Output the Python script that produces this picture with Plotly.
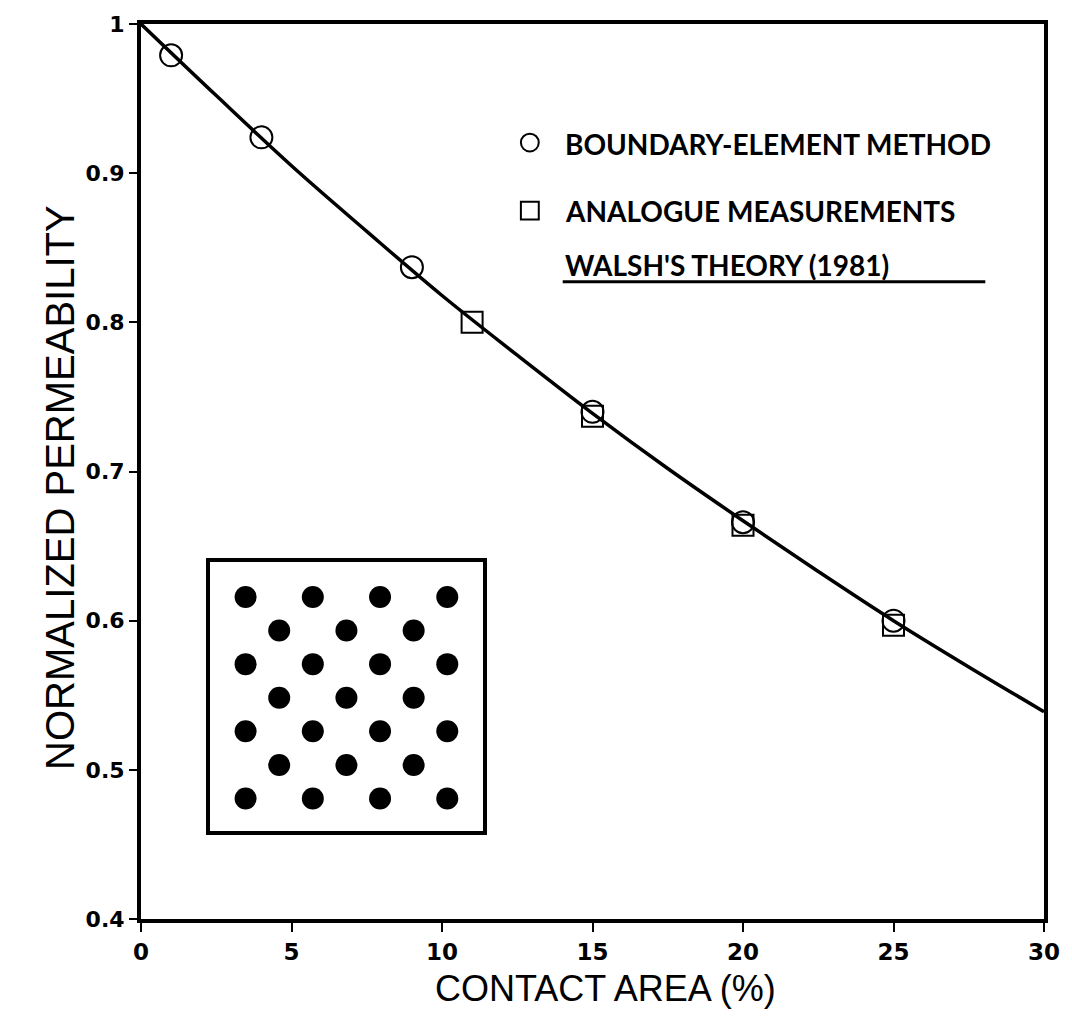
import plotly.graph_objects as go

# ---- data ----
bem_x = [1, 4, 9, 15, 20, 25]
bem_y = [0.979, 0.924, 0.837, 0.740, 0.666, 0.600]

ana_x = [11, 15, 20, 25]
ana_y = [0.800, 0.737, 0.664, 0.597]

walsh_x = [0, 2.5, 5, 7.5, 10, 12.5, 15, 17.5, 20, 22.5, 25, 27.5, 30]
walsh_y = [1.000, 0.952, 0.905, 0.861, 0.818, 0.778, 0.739, 0.702, 0.667, 0.633, 0.600, 0.569, 0.539]

x_ticks = [0, 5, 10, 15, 20, 25, 30]
y_ticks = [0.4, 0.5, 0.6, 0.7, 0.8, 0.9, 1.0]
y_ticklabels = ["0.4", "0.5", "0.6", "0.7", "0.8", "0.9", "1"]

# inset: staggered grid of contact spots (column index, row index)
inset_col = [0, 2, 4, 6, 1, 3, 5, 0, 2, 4, 6, 1, 3, 5, 0, 2, 4, 6, 1, 3, 5, 0, 2, 4, 6]
inset_row = [0, 0, 0, 0, 1, 1, 1, 2, 2, 2, 2, 3, 3, 3, 4, 4, 4, 4, 5, 5, 5, 6, 6, 6, 6]

legend_labels = ["BOUNDARY-ELEMENT METHOD", "ANALOGUE MEASUREMENTS", "WALSH'S THEORY (1981)"]

fig = go.Figure()

fig.add_trace(go.Scatter(
    x=walsh_x, y=walsh_y, mode="lines", line=dict(color="black", width=3.5, shape="spline"),
    name=legend_labels[2], showlegend=False))
fig.add_trace(go.Scatter(
    x=ana_x, y=ana_y, mode="markers",
    marker=dict(symbol="square-open", size=21, color="black", line=dict(width=2)),
    name=legend_labels[1], showlegend=False))
fig.add_trace(go.Scatter(
    x=bem_x, y=bem_y, mode="markers",
    marker=dict(symbol="circle-open", size=22, color="black", line=dict(width=2)),
    name=legend_labels[0], showlegend=False))

fig.add_trace(go.Scatter(
    x=inset_col, y=inset_row, mode="markers", xaxis="x2", yaxis="y2",
    marker=dict(symbol="circle", size=22, color="black"), showlegend=False, hoverinfo="skip"))

tick_font_y = dict(family="DejaVu Sans", size=22, color="black", weight="bold")
tick_font_x = dict(family="DejaVu Sans", size=23, color="black", weight="bold")

fig.update_layout(
    width=1072, height=1018,
    margin=dict(l=141, r=23, t=13, b=99),
    paper_bgcolor="white", plot_bgcolor="white",
    showlegend=False,
    xaxis=dict(range=[0, 30], tickvals=x_ticks, ticks="outside", ticklen=9, tickwidth=2,
               tickcolor="black", showline=True, linecolor="black", linewidth=4, mirror=True,
               showgrid=False, zeroline=False, tickfont=tick_font_x),
    yaxis=dict(range=[0.4, 1.0], tickvals=y_ticks, ticktext=y_ticklabels, ticks="outside",
               ticklen=8, tickwidth=2, tickcolor="black", showline=True, linecolor="black",
               linewidth=4, mirror=True, showgrid=False, zeroline=False, tickfont=tick_font_y),
    xaxis2=dict(domain=[0.076, 0.379], anchor="y2", range=[-1.07, 7.07], showline=True,
                linecolor="black", linewidth=3.5, mirror=True, showgrid=False, zeroline=False,
                showticklabels=False, ticks=""),
    yaxis2=dict(domain=[0.0982, 0.3985], anchor="x2", range=[6.97, -1.03], showline=True,
                linecolor="black", linewidth=3.5, mirror=True, showgrid=False, zeroline=False,
                showticklabels=False, ticks=""),
)

# axis titles
fig.add_annotation(text="CONTACT AREA (%)", xref="paper", yref="paper", x=0.514, y=-0.0775,
                   showarrow=False, xanchor="center", yanchor="middle",
                   font=dict(family="Liberation Sans", size=36, color="black"))
fig.add_annotation(text="NORMALIZED PERMEABILITY", xref="paper", yref="paper", x=-0.0905, y=0.482,
                   showarrow=False, xanchor="center", yanchor="middle", textangle=-90,
                   font=dict(family="Liberation Sans", size=40, color="black"))

# legend (drawn manually)
leg_font = dict(family="Lato", size=28, color="black", weight="bold")
leg_y = [0.8664, 0.7914, 0.7307]
for lab, yy in zip(legend_labels, leg_y):
    fig.add_annotation(text=lab, xref="paper", yref="paper",
                       x=0.467, y=yy, showarrow=False, xanchor="left", yanchor="middle", font=leg_font)
fig.add_shape(type="circle", xref="paper", yref="paper", x0=0.4207, x1=0.4405, y0=0.8576, y1=0.8775,
              line=dict(color="black", width=2))
fig.add_shape(type="rect", xref="paper", yref="paper", x0=0.4207, x1=0.4405, y0=0.7815, y1=0.8013,
              line=dict(color="black", width=2))
fig.add_shape(type="line", xref="paper", yref="paper", x0=0.467, x1=0.935, y0=0.712, y1=0.712,
              line=dict(color="black", width=3))

fig.write_html("out.html")
